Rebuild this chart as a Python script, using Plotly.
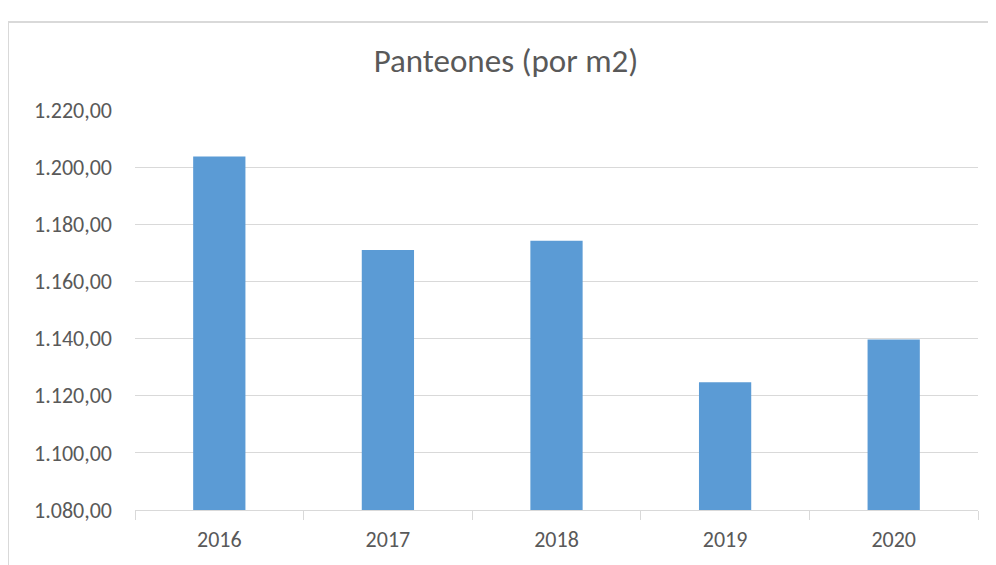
import plotly.graph_objects as go

years = ["2016", "2017", "2018", "2019", "2020"]
price_per_m2 = [1203.7, 1171.0, 1174.2, 1124.7, 1139.7]
y_ticks = [1080, 1100, 1120, 1140, 1160, 1180, 1200, 1220]

font_family = "Carlito, Lato, sans-serif"
text_color = "#595959"
grid_color = "#d9d9d9"

fig = go.Figure()
fig.add_trace(go.Bar(x=years, y=price_per_m2, marker_color="#5b9bd5",
                     marker_line_width=0, name="Panteones"))

fig.update_layout(
    width=996, height=565,
    margin=dict(l=127, r=26, t=102, b=63),
    paper_bgcolor="white", plot_bgcolor="white",
    separators=",.",
    bargap=0.69,
    showlegend=False,
    font=dict(family=font_family, color=text_color, size=22),
    title=dict(text="Panteones (por m2)", x=0.5, xanchor="center",
               y=1 - 52 / 565, yanchor="middle",
               font=dict(family=font_family, size=33, color=text_color, weight=300)),
    xaxis=dict(type="category", showline=True, linecolor=grid_color, linewidth=1,
               ticks="outside", tickson="boundaries", ticklen=9, tickcolor=grid_color,
               showgrid=False, ticklabelstandoff=10, tickfont=dict(size=22)),
    yaxis=dict(range=[1080, 1220], tickvals=y_ticks, tickformat=",.2f",
               showgrid=True, gridcolor=grid_color, gridwidth=1,
               zeroline=False, showline=False, ticks="",
               ticklabelstandoff=22, tickfont=dict(size=22)),
)

# chart area border (cropped on the right and bottom)
fig.add_shape(type="rect", xref="paper", yref="paper",
              x0=(0 - 127) / 843, x1=1.1, y0=-0.3, y1=(502 - 14) / 400,
              line=dict(color=grid_color, width=2), layer="below")

fig.write_html("out.html")
